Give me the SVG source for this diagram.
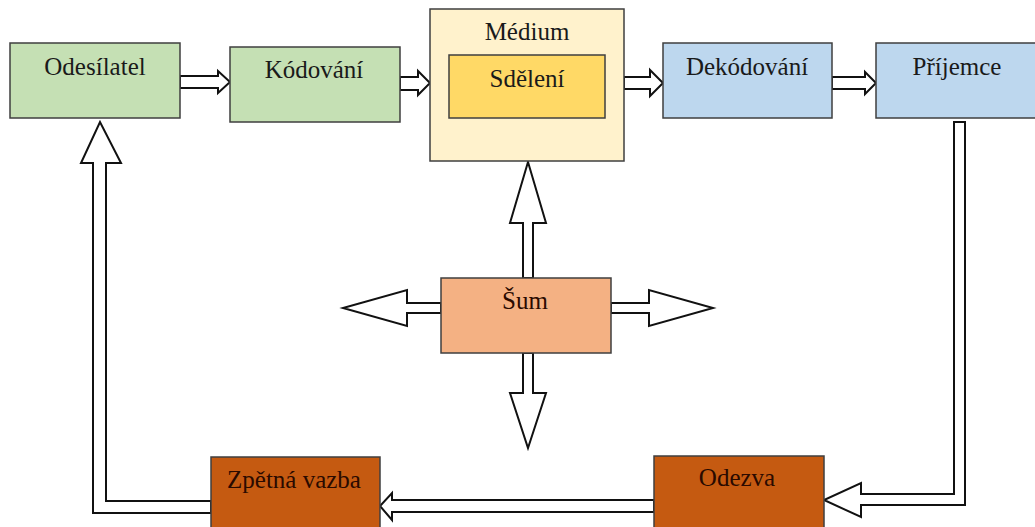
<svg xmlns="http://www.w3.org/2000/svg" width="1035" height="527" viewBox="0 0 1035 527">
  <style>
    .box { stroke: #3f3f3f; stroke-width: 1.5; }
    .green { fill: #c5e0b4; }
    .cream { fill: #fff2cc; }
    .gold { fill: #ffd966; }
    .blue { fill: #bdd7ee; }
    .peach { fill: #f4b183; }
    .rust { fill: #c55a11; }
    .lbl { font-family: "Liberation Serif", "Times New Roman", serif; font-size: 25px; fill: #1a1a1a; text-anchor: middle; }
    .lbl-dark { fill: #2a0a00; }
    .arrow { fill: #ffffff; stroke: #111111; stroke-width: 2; stroke-linejoin: miter; }
  </style>
  <rect width="1035" height="527" fill="#ffffff"/>

  <!-- block arrows -->
  <g id="connectors">
    <!-- Odesílatel -> Kódování -->
    <polygon class="arrow" points="180,76 218,76 218,71 230,82 218,93 218,88 180,88"/>
    <!-- Kódování -> Médium -->
    <polygon class="arrow" points="400,77 418,77 418,71 430,83 418,95 418,90 400,90"/>
    <!-- Médium -> Dekódování -->
    <polygon class="arrow" points="624,77 650,77 650,70 663,83 650,96 650,89 624,89"/>
    <!-- Dekódování -> Příjemce -->
    <polygon class="arrow" points="832,77 865,77 865,72 876,83 865,94 865,89 832,89"/>
    <!-- Příjemce -> Odezva -->
    <polygon class="arrow" points="954,122 965,122 965,505 861,505 861,517 824,500 861,483 861,494 954,494"/>
    <!-- Odezva -> Zpětná vazba -->
    <polygon class="arrow" points="654,500 392,500 392,493 380,506 392,520 392,512 654,512"/>
    <!-- Zpětná vazba -> Odesílatel -->
    <polygon class="arrow" points="211,501 106,501 106,163 121,163 100,122 81,163 93,163 93,513 211,513"/>
    <!-- Šum -> Médium -->
    <polygon class="arrow" points="523,278 523,223 510,223 528,162 546,223 533,223 533,278"/>
    <!-- Šum down -->
    <polygon class="arrow" points="523,353 523,393 510,393 528,448 546,393 533,393 533,353"/>
    <!-- Šum left -->
    <polygon class="arrow" points="441,303 407,303 407,290 343,308 407,326 407,313 441,313"/>
    <!-- Šum right -->
    <polygon class="arrow" points="611,303 649,303 649,290 713,308 649,326 649,313 611,313"/>
  </g>

  <g id="odesilatel">
    <rect class="box green" x="10" y="43" width="170" height="75"/>
    <text class="lbl" x="95" y="75">Odesílatel</text>
  </g>

  <g id="kodovani">
    <rect class="box green" x="230" y="47" width="170" height="75"/>
    <text class="lbl" x="314" y="78">Kódování</text>
  </g>

  <g id="medium">
    <rect class="box cream" x="430" y="9" width="194" height="152"/>
    <text class="lbl" x="527" y="40">Médium</text>
  </g>

  <g id="sdeleni">
    <rect class="box gold" x="449" y="55" width="156" height="63"/>
    <text class="lbl" x="527" y="87">Sdělení</text>
  </g>

  <g id="dekodovani">
    <rect class="box blue" x="663" y="43" width="169" height="75"/>
    <text class="lbl" x="747" y="75">Dekódování</text>
  </g>

  <g id="prijemce">
    <rect class="box blue" x="876" y="43" width="162" height="75"/>
    <text class="lbl" x="957" y="75">Příjemce</text>
  </g>

  <g id="sum">
    <rect class="box peach" x="441" y="278" width="170" height="75"/>
    <text class="lbl lbl-dark" x="525" y="309">Šum</text>
  </g>

  <g id="odezva">
    <rect class="box rust" x="654" y="456" width="170" height="80"/>
    <text class="lbl lbl-dark" x="737" y="486">Odezva</text>
  </g>

  <g id="zpetna-vazba">
    <rect class="box rust" x="211" y="457" width="169" height="80"/>
    <text class="lbl lbl-dark" x="294" y="488">Zpětná vazba</text>
  </g>
</svg>
